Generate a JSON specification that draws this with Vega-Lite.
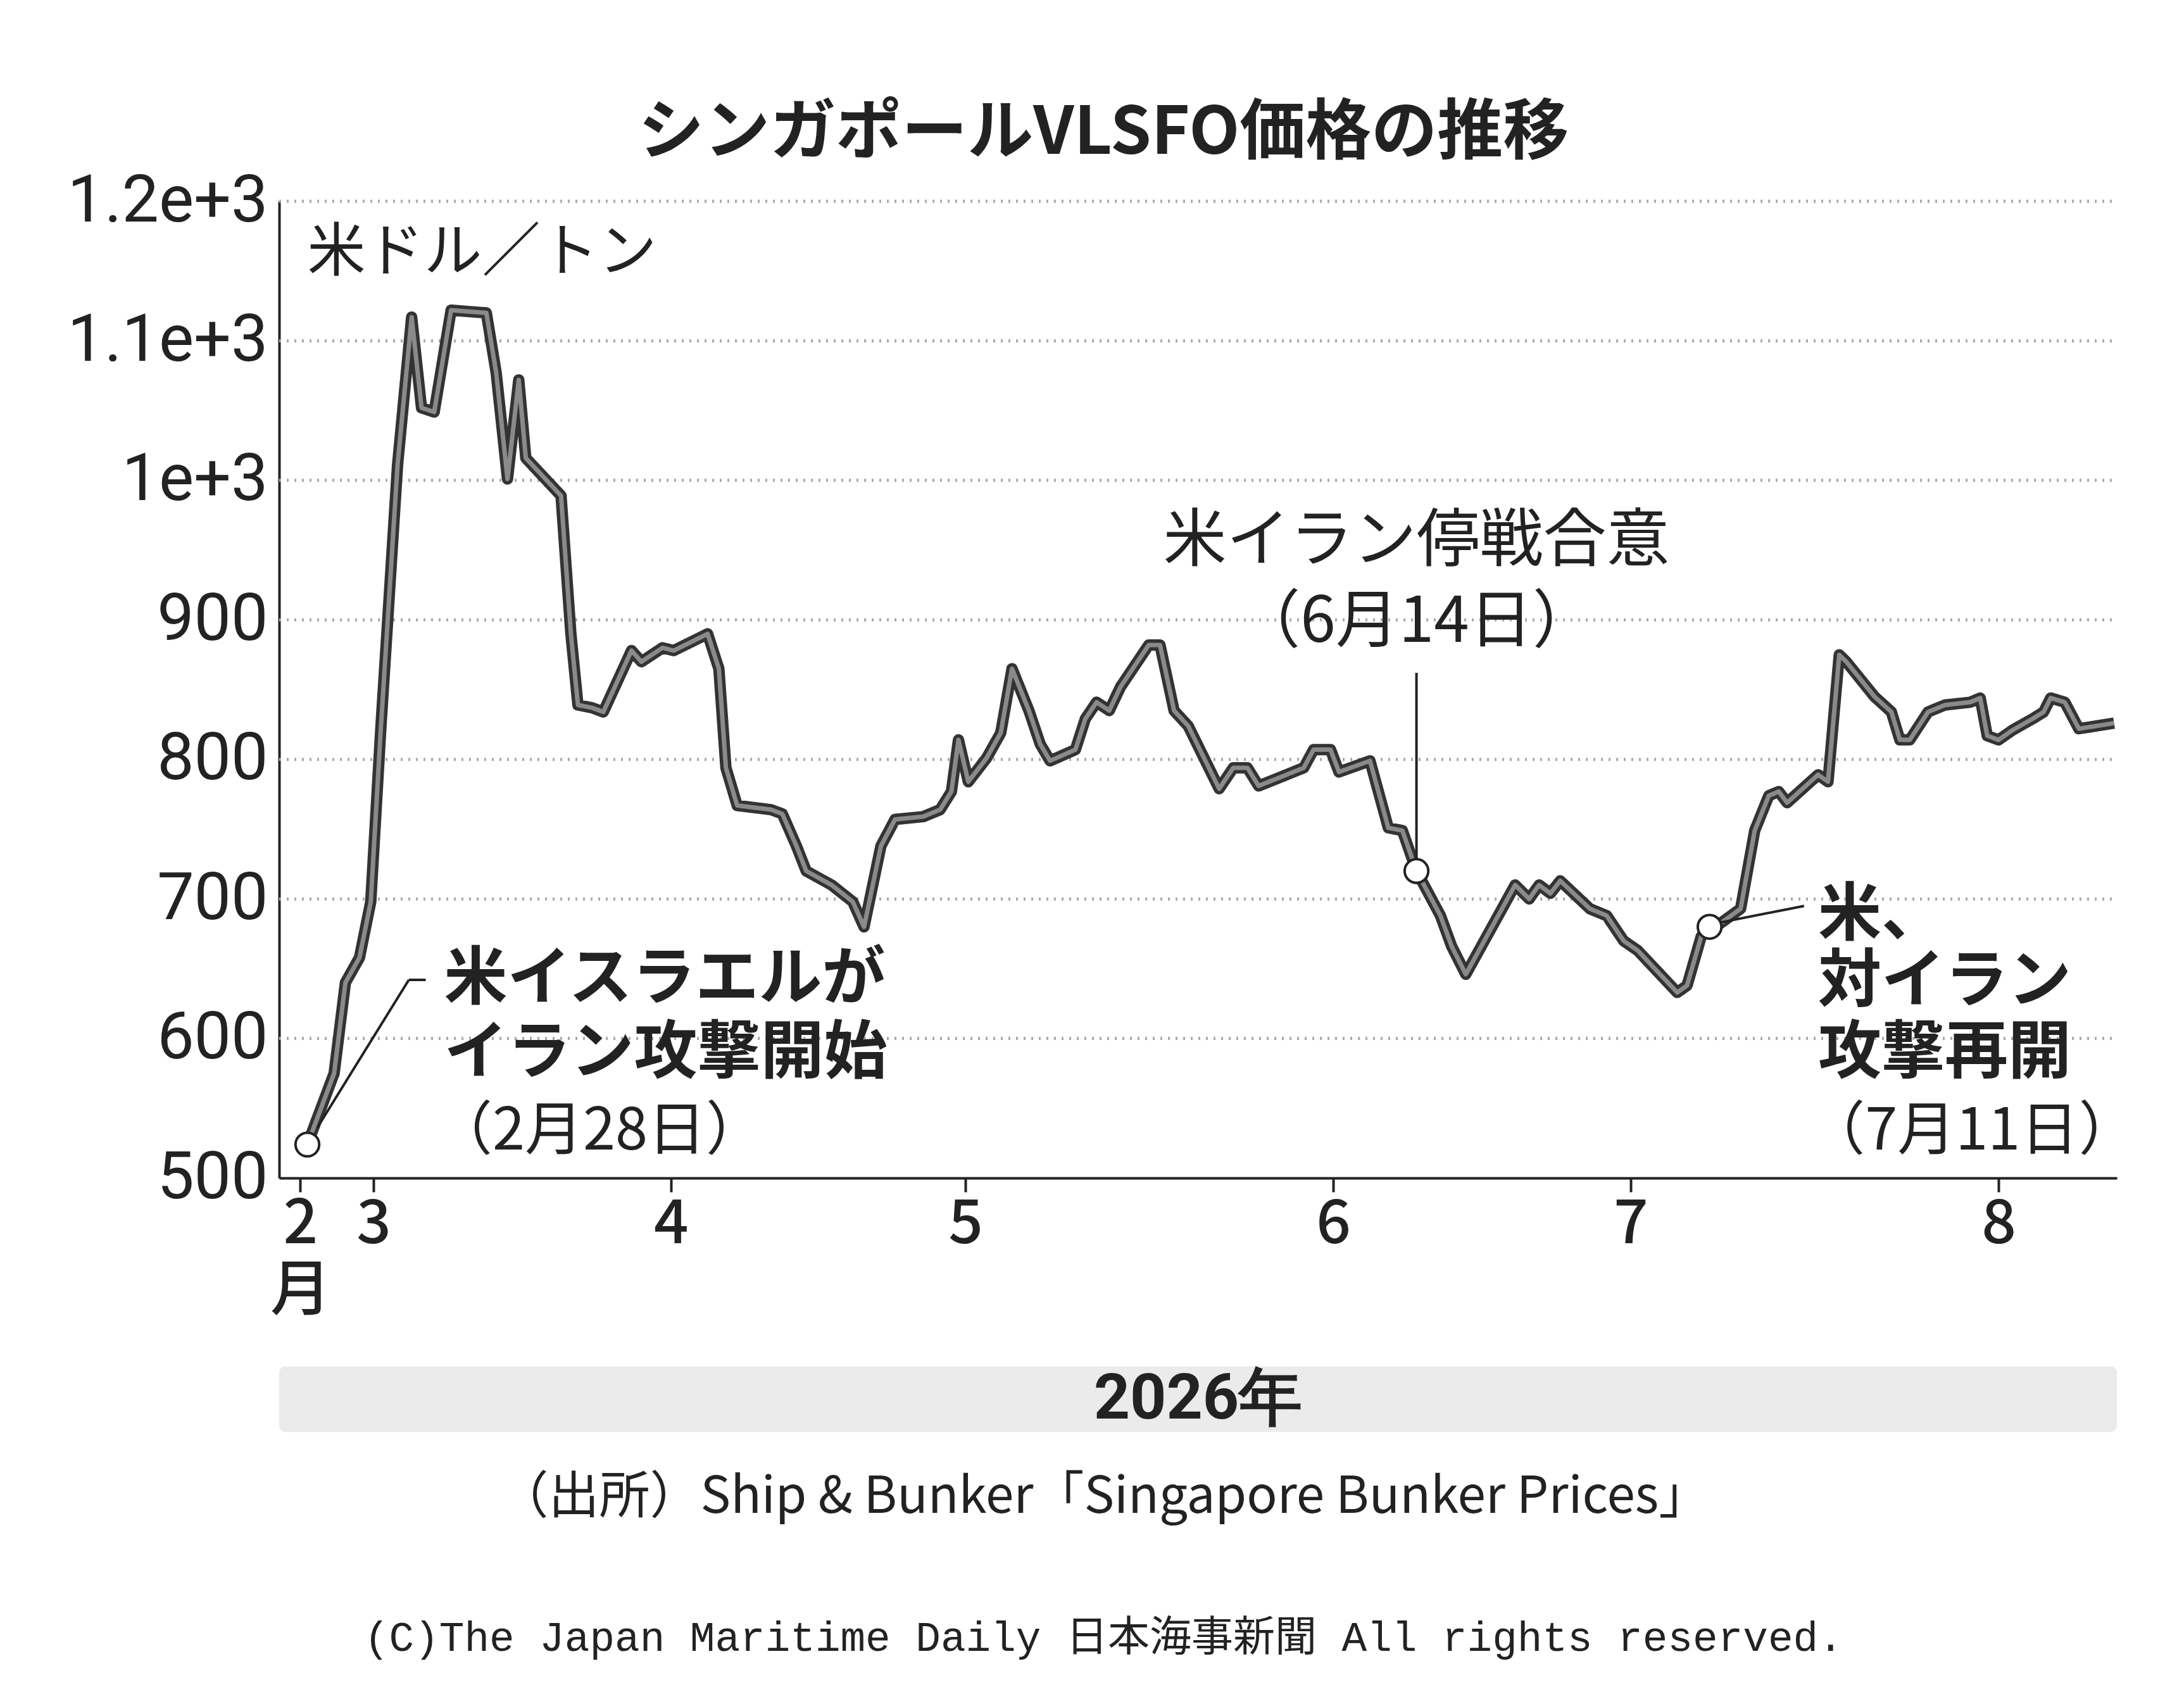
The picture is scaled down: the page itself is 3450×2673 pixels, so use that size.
{
  "$schema": "https://vega.github.io/schema/vega-lite/v6.json",
  "autosize": "none",
  "width": 2903,
  "height": 1543,
  "padding": {"left": 441, "top": 318, "right": 106, "bottom": 812},
  "background": "white",
  "config": {"view": {"stroke": null}, "font": "Noto Sans CJK JP"},
  "datasets": {
    "price": [
      {"t":20,"v":524},{"t":39,"v":575},{"t":47,"v":640},{"t":57,"v":658},{"t":65,"v":698},{"t":72,"v":820},{"t":84,"v":1011},{"t":94,"v":1117},{"t":101,"v":1052},{"t":110,"v":1049},{"t":122,"v":1122},{"t":147,"v":1120},{"t":154,"v":1077},{"t":162,"v":1001},{"t":170,"v":1072},{"t":175,"v":1016},{"t":200,"v":989},{"t":207,"v":890},{"t":212,"v":839},{"t":222,"v":837},{"t":230,"v":834},{"t":250,"v":878},{"t":257,"v":870},{"t":272,"v":880},{"t":280,"v":878},{"t":304,"v":890},{"t":312,"v":865},{"t":317,"v":794},{"t":325,"v":767},{"t":349,"v":764},{"t":357,"v":761},{"t":367,"v":738},{"t":374,"v":720},{"t":392,"v":710},{"t":407,"v":698},{"t":415,"v":680},{"t":427,"v":738},{"t":437,"v":757},{"t":457,"v":759},{"t":469,"v":764},{"t":477,"v":777},{"t":482,"v":814},{"t":489,"v":784},{"t":502,"v":801},{"t":512,"v":819},{"t":520,"v":865},{"t":532,"v":835},{"t":540,"v":811},{"t":547,"v":799},{"t":565,"v":807},{"t":572,"v":829},{"t":580,"v":841},{"t":589,"v":835},{"t":597,"v":852},{"t":617,"v":882},{"t":625,"v":882},{"t":635,"v":835},{"t":645,"v":824},{"t":667,"v":779},{"t":677,"v":794},{"t":687,"v":794},{"t":695,"v":781},{"t":727,"v":794},{"t":734,"v":807},{"t":746,"v":807},{"t":752,"v":791},{"t":774,"v":799},{"t":787,"v":751},{"t":797,"v":749},{"t":807,"v":720},{"t":824,"v":688},{"t":832,"v":666},{"t":842,"v":646},{"t":877,"v":710},{"t":887,"v":700},{"t":894,"v":710},{"t":902,"v":704},{"t":909,"v":713},{"t":930,"v":693},{"t":942,"v":688},{"t":954,"v":670},{"t":964,"v":663},{"t":992,"v":633},{"t":999,"v":638},{"t":1009,"v":673},{"t":1015,"v":680},{"t":1022,"v":682},{"t":1037,"v":693},{"t":1047,"v":749},{"t":1057,"v":774},{"t":1064,"v":777},{"t":1070,"v":769},{"t":1092,"v":789},{"t":1099,"v":784},{"t":1107,"v":875},{"t":1112,"v":870},{"t":1132,"v":845},{"t":1144,"v":834},{"t":1150,"v":814},{"t":1157,"v":814},{"t":1170,"v":834},{"t":1182,"v":839},{"t":1200,"v":841},{"t":1207,"v":844},{"t":1212,"v":817},{"t":1220,"v":814},{"t":1230,"v":821},{"t":1244,"v":829},{"t":1252,"v":834},{"t":1257,"v":844},{"t":1267,"v":841},{"t":1277,"v":822},{"t":1302,"v":826}
    ],
    "events": [{"t":20,"v":524},{"t":807,"v":720},{"t":1015,"v":680}],
    "leaders": [
      {"t":27,"v":536,"t2":92,"v2":642},
      {"t":92,"v":642,"t2":104,"v2":642},
      {"t":807,"v":728,"t2":807,"v2":862},
      {"t":1022,"v":683,"t2":1082,"v2":695}
    ],
    "boldLeft": [
      {"t":117,"v":642,"s":"米イスラエルが"},
      {"t":117,"v":589,"s":"イラン攻撃開始"},
      {"t":1092,"v":688,"s":"米、"},
      {"t":1092,"v":640,"s":"対イラン"},
      {"t":1092,"v":589,"s":"攻撃再開"}
    ],
    "normLeft": [
      {"t":110,"v":533,"s":"（2月28日）"},
      {"t":1084,"v":533,"s":"（7月11日）"},
      {"t":20,"v":1163,"s":"米ドル／トン"}
    ],
    "center": [
      {"t":807,"v":956,"s":"米イラン停戦合意","w":"bold"},
      {"t":807,"v":898,"s":"（6月14日）","w":"normal"}
    ],
    "band": [{"t":0,"t2":1304,"v":365,"v2":318,"s":"2026年"}]
  },
  "layer": [
    {
      "data": {"values": [{"v":600},{"v":700},{"v":800},{"v":900},{"v":1000},{"v":1100},{"v":1200}]},
      "mark": {"type": "rule", "color": "#aaaaaa", "strokeWidth": 5, "strokeDash": [3, 9]},
      "encoding": {
        "x": {"datum": 0, "type": "quantitative", "scale": {"domain": [0, 1304], "nice": false, "zero": false},
          "axis": {"values": [15, 67, 278, 487, 748, 959, 1220], "labelExpr": "datum.value == 15 ? ['2','月'] : datum.value == 67 ? '3' : datum.value == 278 ? '4' : datum.value == 487 ? '5' : datum.value == 748 ? '6' : datum.value == 959 ? '7' : '8'",
            "title": null, "grid": false, "domainColor": "#222", "domainWidth": 4, "tickColor": "#222", "tickWidth": 4, "tickSize": 22,
            "labelFont": "Noto Sans CJK JP", "labelFontWeight": 500, "labelFontSize": 96, "labelColor": "#222", "labelPadding": 4, "labelLineHeight": 105}},
        "x2": {"datum": 1304},
        "y": {"field": "v", "type": "quantitative", "scale": {"domain": [500, 1200], "nice": false, "zero": false},
          "axis": {"values": [500, 600, 700, 800, 900, 1000, 1100, 1200], "format": ",", "title": null, "grid": false, "ticks": false, "labelLimit": 0,
            "domainColor": "#222", "domainWidth": 4, "labelFont": "Roboto", "labelFontSize": 104, "labelColor": "#222", "labelPadding": 18}}
      }
    },
    {
      "data": {"name": "price"},
      "mark": {"type": "line", "color": "#333333", "strokeWidth": 18, "strokeJoin": "round", "clip": false},
      "encoding": {"x": {"field": "t", "type": "quantitative"}, "y": {"field": "v", "type": "quantitative"}}
    },
    {
      "data": {"name": "price"},
      "mark": {"type": "line", "color": "#8a8a8a", "strokeWidth": 7, "strokeJoin": "round", "clip": false},
      "encoding": {"x": {"field": "t", "type": "quantitative"}, "y": {"field": "v", "type": "quantitative"}}
    },
    {
      "data": {"name": "leaders"},
      "mark": {"type": "rule", "color": "#222", "strokeWidth": 4},
      "encoding": {"x": {"field": "t", "type": "quantitative"}, "y": {"field": "v", "type": "quantitative"}, "x2": {"field": "t2"}, "y2": {"field": "v2"}}
    },
    {
      "data": {"name": "events"},
      "mark": {"type": "point", "shape": "circle", "filled": true, "fill": "white", "stroke": "#222", "strokeWidth": 4, "size": 1400, "opacity": 1},
      "encoding": {"x": {"field": "t", "type": "quantitative"}, "y": {"field": "v", "type": "quantitative"}}
    },
    {
      "data": {"name": "boldLeft"},
      "mark": {"type": "text", "fontSize": 100, "fontWeight": "bold", "align": "left", "baseline": "middle", "color": "#222"},
      "encoding": {"x": {"field": "t", "type": "quantitative"}, "y": {"field": "v", "type": "quantitative"}, "text": {"field": "s"}}
    },
    {
      "data": {"name": "normLeft"},
      "mark": {"type": "text", "fontSize": 92, "align": "left", "baseline": "middle", "color": "#222"},
      "encoding": {"x": {"field": "t", "type": "quantitative"}, "y": {"field": "v", "type": "quantitative"}, "text": {"field": "s"}}
    },
    {
      "data": {"name": "center"},
      "mark": {"type": "text", "fontSize": 100, "align": "center", "baseline": "middle", "color": "#222"},
      "encoding": {"x": {"field": "t", "type": "quantitative"}, "y": {"field": "v", "type": "quantitative"}, "text": {"field": "s"},
        "fontWeight": {"condition": {"test": "datum.w == 'bold'", "value": "bold"}, "value": "normal"}}
    },
    {
      "data": {"name": "band"},
      "mark": {"type": "rect", "color": "#ebebeb", "cornerRadius": 10, "clip": false},
      "encoding": {"x": {"field": "t", "type": "quantitative"}, "x2": {"field": "t2"}, "y": {"field": "v", "type": "quantitative"}, "y2": {"field": "v2"}}
    },
    {
      "data": {"name": "band"},
      "mark": {"type": "text", "fontSize": 100, "fontWeight": "bold", "font": "Roboto", "color": "#222", "baseline": "middle", "clip": false},
      "encoding": {"x": {"datum": 652, "type": "quantitative"}, "y": {"datum": 341, "type": "quantitative"}, "text": {"field": "s"}}
    },
    {
      "data": {"values": [{"t":585,"v":1248,"s":"シンガポールVLSFO価格の推移"}]},
      "mark": {"type": "text", "fontSize": 104, "fontWeight": "bold", "baseline": "middle", "color": "#222", "clip": false},
      "encoding": {"x": {"field": "t", "type": "quantitative"}, "y": {"field": "v", "type": "quantitative"}, "text": {"field": "s"}}
    },
    {
      "data": {"values": [{"t":585,"v":271,"s":"（出所）Ship & Bunker「Singapore Bunker Prices」"}]},
      "mark": {"type": "text", "fontSize": 80, "baseline": "middle", "color": "#222", "clip": false},
      "encoding": {"x": {"field": "t", "type": "quantitative"}, "y": {"field": "v", "type": "quantitative"}, "text": {"field": "s"}}
    },
    {
      "data": {"values": [{"t":585,"v":170,"s":"(C)The Japan Maritime Daily 日本海事新聞 All rights reserved."}]},
      "mark": {"type": "text", "fontSize": 66, "font": "Liberation Mono, Noto Sans CJK JP", "baseline": "middle", "color": "#222", "clip": false},
      "encoding": {"x": {"field": "t", "type": "quantitative"}, "y": {"field": "v", "type": "quantitative"}, "text": {"field": "s"}}
    }
  ]
}
